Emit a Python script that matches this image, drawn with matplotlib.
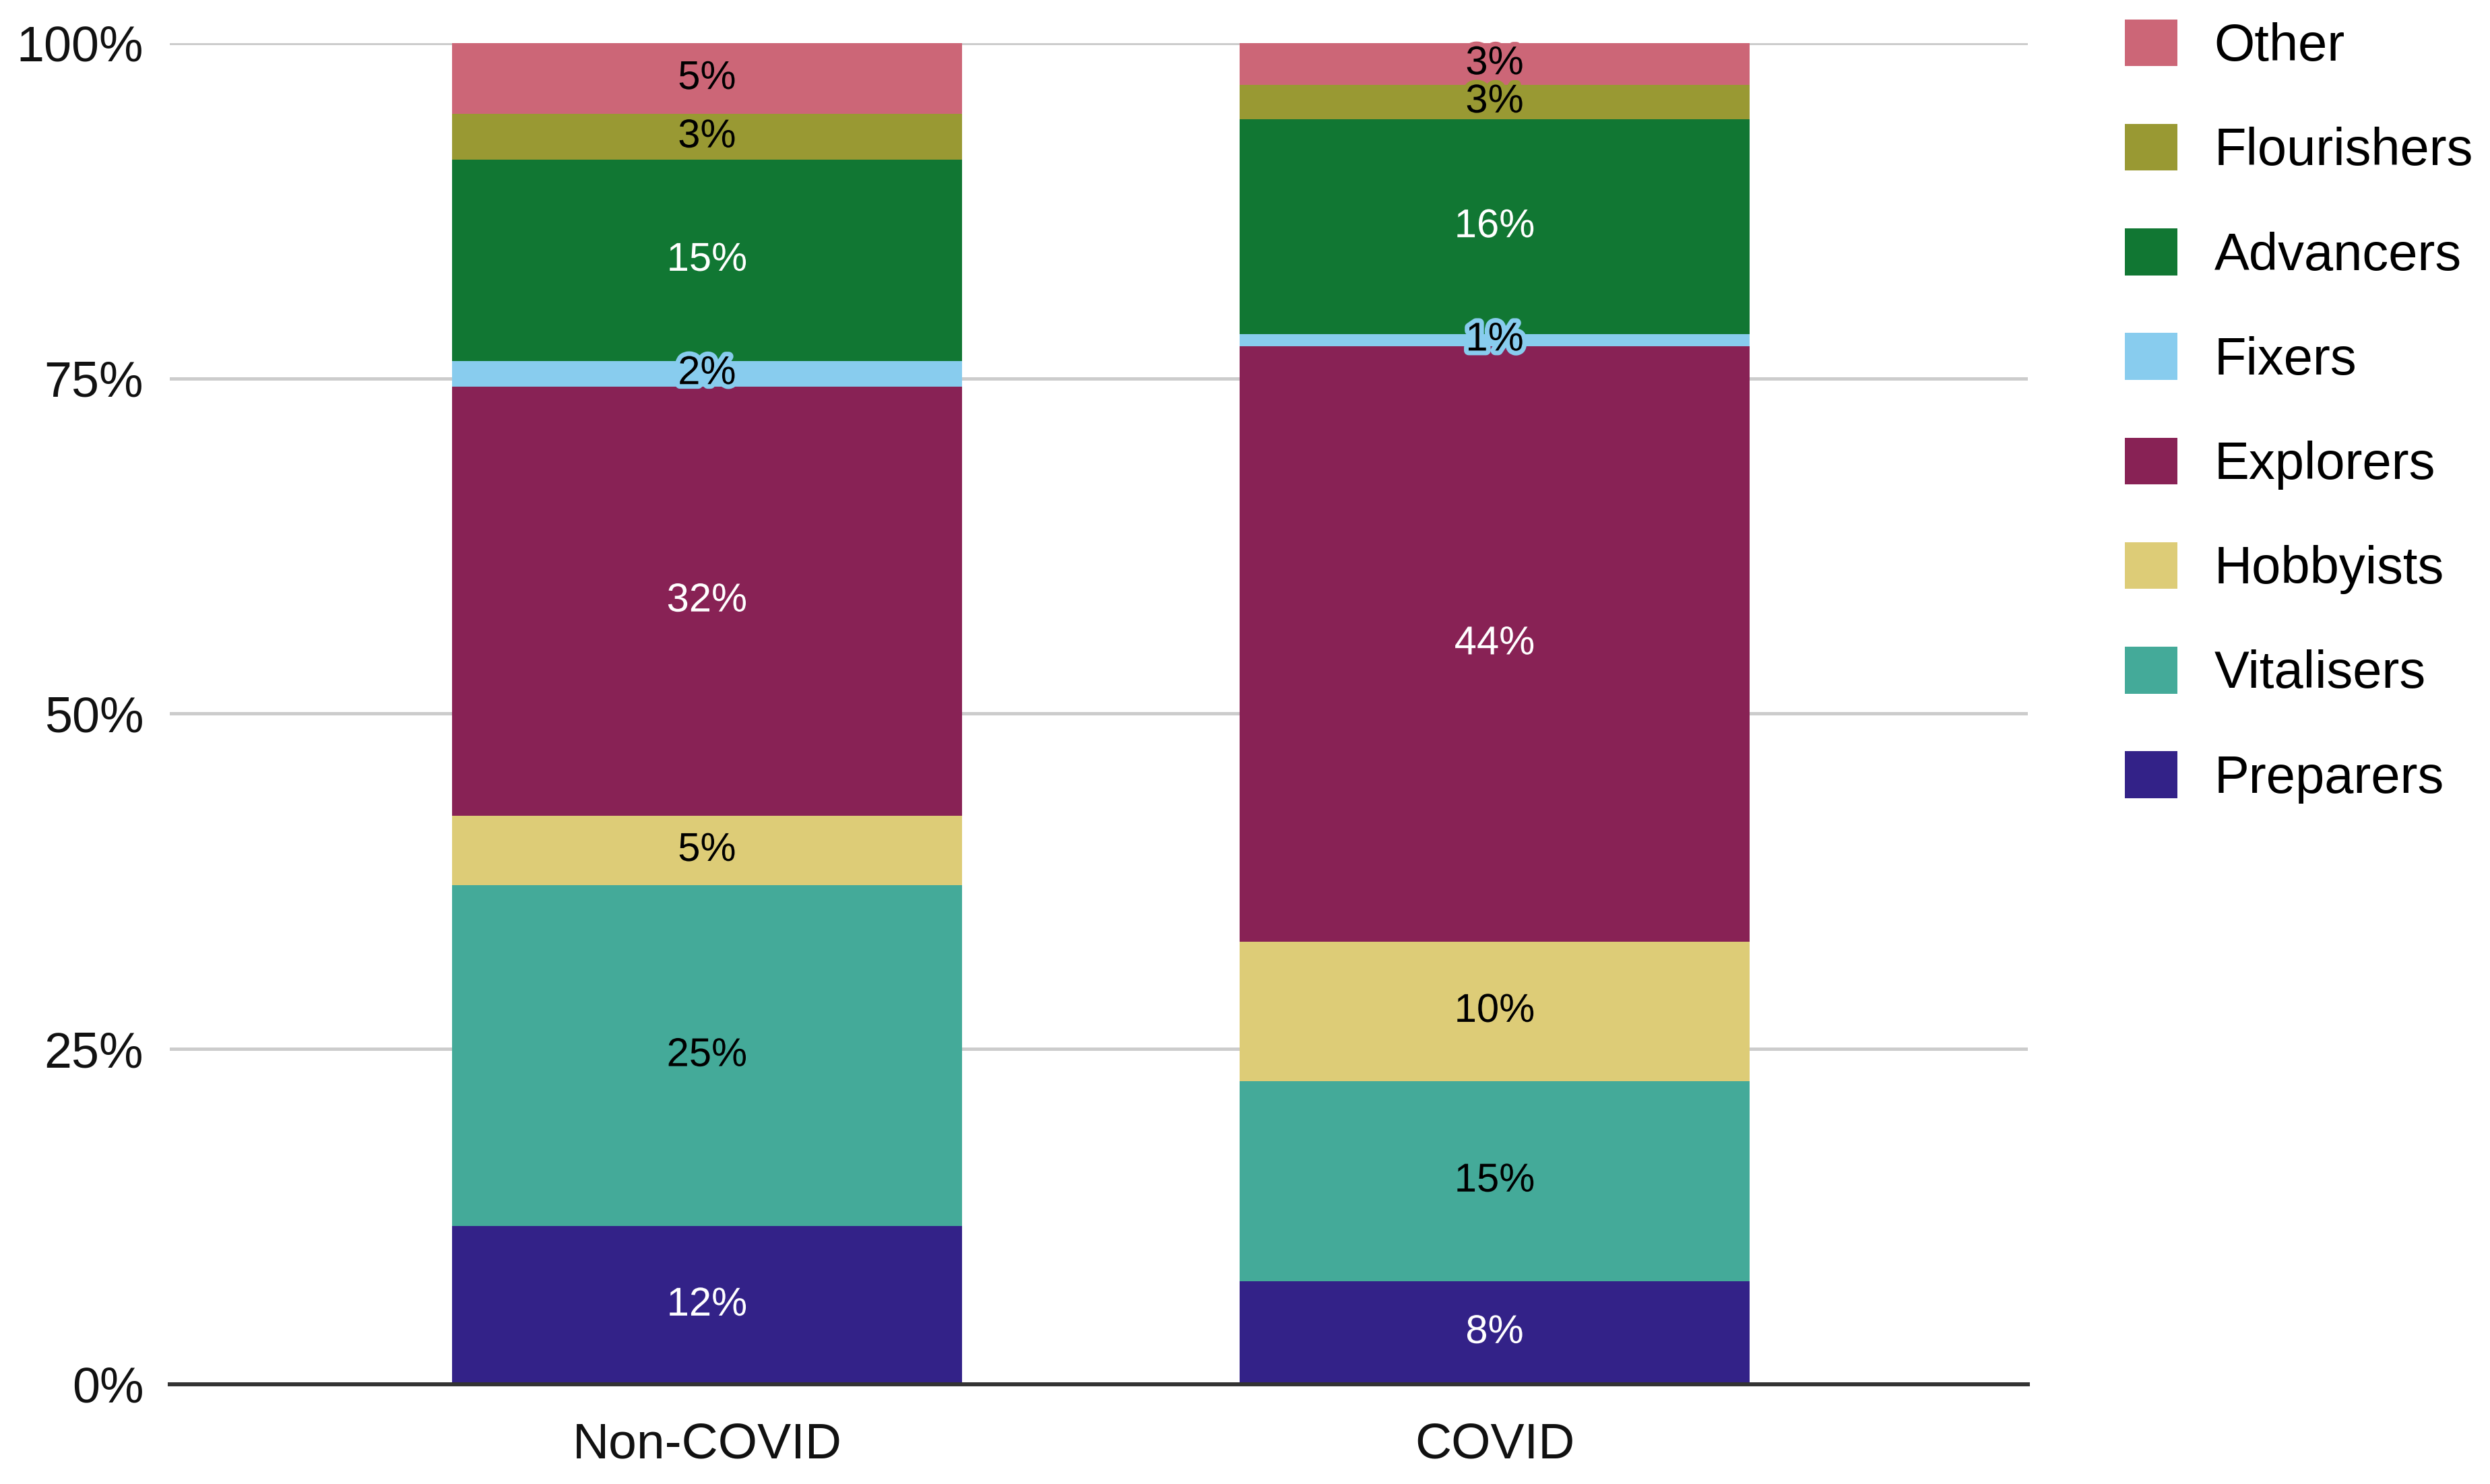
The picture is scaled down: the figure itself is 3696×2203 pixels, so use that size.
import numpy as np
import matplotlib
matplotlib.use('Agg')
import matplotlib.pyplot as plt
import matplotlib.patheffects as pe

plt.rcParams['font.family'] = ['Liberation Sans', 'DejaVu Sans']

# data (percent of respondents)
groups = ['Non-COVID', 'COVID']
segments = ['Preparers', 'Vitalisers', 'Hobbyists', 'Explorers',
            'Fixers', 'Advancers', 'Flourishers', 'Other']
preparers = [11.8, 7.7]
vitalisers = [25.4, 14.9]
hobbyists = [5.2, 10.4]
explorers = [32.0, 44.4]
fixers = [1.9, 0.9]
advancers = [15.0, 16.0]
flourishers = [3.4, 2.6]
other = [5.3, 3.1]
yticks = [0, 25, 50, 75, 100]

colors = ['#332288', '#44AA99', '#DDCC77', '#882255',
          '#88CCEE', '#117733', '#999933', '#CC6677']
text_colors = ['white', 'black', 'black', 'white',
               'black', 'white', 'black', 'black']

values = [preparers, vitalisers, hobbyists, explorers,
          fixers, advancers, flourishers, other]

fig = plt.figure(figsize=(36.96, 22.03), dpi=100)
ax = fig.add_axes([0.0682, 0.0672, 0.7462, 0.9038])

x = np.arange(len(groups))
bottom = np.zeros(len(groups))
handles = []
for name, vals, col, tcol in zip(segments, values, colors, text_colors):
    vals = np.array(vals)
    bars = ax.bar(x, vals, width=0.648, bottom=bottom, color=col,
                  label=name, zorder=2)
    handles.append(bars)
    for xi, b, v in zip(x, bottom, vals):
        ax.text(xi, b + v / 2, f'{round(v):.0f}%', ha='center', va='center',
                fontsize=43, color=tcol, zorder=4,
                path_effects=[pe.withStroke(linewidth=10, foreground=col)])
    bottom += vals

ax.set_xlim(-0.682, 1.677)
ax.set_ylim(0, 100)
ax.set_yticks(yticks)
ax.set_yticklabels([f'{t}%' for t in yticks])
ax.set_xticks(x)
ax.set_xticklabels(groups)
ax.tick_params(axis='y', length=0, pad=28, labelsize=53, labelcolor='#111111')
ax.tick_params(axis='x', length=0, pad=40, labelsize=54, labelcolor='#111111')
ax.yaxis.grid(True, color='#cccccc', linewidth=3.6)
ax.set_axisbelow(True)
for s in ['top', 'right', 'left']:
    ax.spines[s].set_visible(False)
ax.spines['bottom'].set_color('#333333')
ax.spines['bottom'].set_linewidth(4.3)
ax.spines['bottom'].set_zorder(3)

fig.legend(handles[::-1], segments[::-1], loc='upper left',
           bbox_to_anchor=(0.8534, 0.987), frameon=False, fontsize=56,
           handlelength=1.0, handleheight=1.0, handletextpad=0.7,
           labelspacing=1.0, borderpad=0, borderaxespad=0)

fig.savefig('out.png', dpi=100)
